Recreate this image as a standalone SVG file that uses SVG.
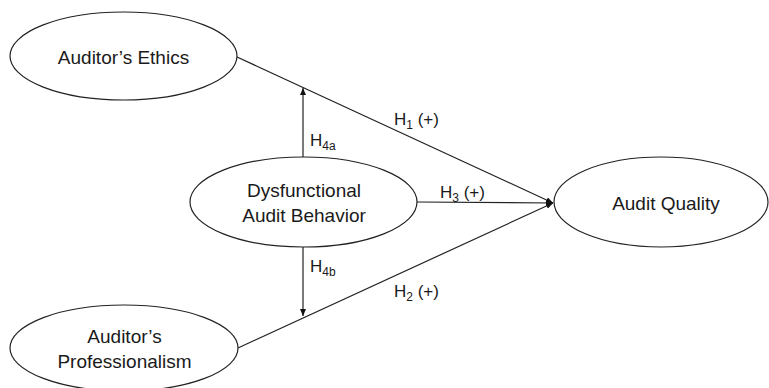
<svg xmlns="http://www.w3.org/2000/svg" width="769" height="388" viewBox="0 0 769 388">
<style>
.node ellipse{fill:#fff;stroke:#222;stroke-width:1.2}
.lbl{font-family:"Liberation Sans",Arial,sans-serif;font-size:19px;fill:#1a1a1a;text-anchor:middle}
.h{font-family:"Liberation Sans",Arial,sans-serif;font-size:17px;fill:#1a1a1a}
.sub{font-size:12px}
#connectors line{stroke:#222;stroke-width:1.2;fill:none}
</style>
<defs>
<marker id="arr" viewBox="0 0 10 10" refX="10" refY="5" markerWidth="7" markerHeight="6" markerUnits="userSpaceOnUse" orient="auto" preserveAspectRatio="none">
<path d="M0,0 L10,5 L0,10 z" fill="#111"/>
</marker>
</defs>
<rect width="769" height="388" fill="#fff"/>
<g id="connectors">
<line x1="237" y1="57" x2="553" y2="203" marker-end="url(#arr)"/>
<line x1="238" y1="348" x2="553" y2="203" marker-end="url(#arr)"/>
<line x1="417" y1="202" x2="553" y2="203" marker-end="url(#arr)"/>
<line x1="303" y1="157" x2="303" y2="88" marker-end="url(#arr)"/>
<line x1="303" y1="247" x2="303" y2="316" marker-end="url(#arr)"/>
</g>
<g id="ethics" class="node">
<ellipse cx="123.5" cy="56" rx="113.5" ry="44"/>
<text class="lbl" x="123.5" y="64">Auditor’s Ethics</text>
</g>
<g id="dysfunctional" class="node">
<ellipse cx="303.5" cy="202" rx="113.5" ry="45"/>
<text class="lbl" x="304" y="197">Dysfunctional</text>
<text class="lbl" x="304" y="222">Audit Behavior</text>
</g>
<g id="quality" class="node">
<ellipse cx="661" cy="202" rx="107" ry="45"/>
<text class="lbl" x="666" y="210">Audit Quality</text>
</g>
<g id="professionalism" class="node">
<ellipse cx="124" cy="348" rx="114" ry="43"/>
<text class="lbl" x="124.5" y="343">Auditor’s</text>
<text class="lbl" x="124.5" y="368">Professionalism</text>
</g>
<g id="labels">
<text class="h" x="394" y="125">H<tspan class="sub" dy="4">1</tspan><tspan dy="-4"> (+)</tspan></text>
<text class="h" x="440" y="198">H<tspan class="sub" dy="4">3</tspan><tspan dy="-4"> (+)</tspan></text>
<text class="h" x="394" y="297">H<tspan class="sub" dy="4">2</tspan><tspan dy="-4"> (+)</tspan></text>
<text class="h" x="310" y="146">H<tspan class="sub" dy="4">4a</tspan></text>
<text class="h" x="310" y="272">H<tspan class="sub" dy="4">4b</tspan></text>
</g>
</svg>
